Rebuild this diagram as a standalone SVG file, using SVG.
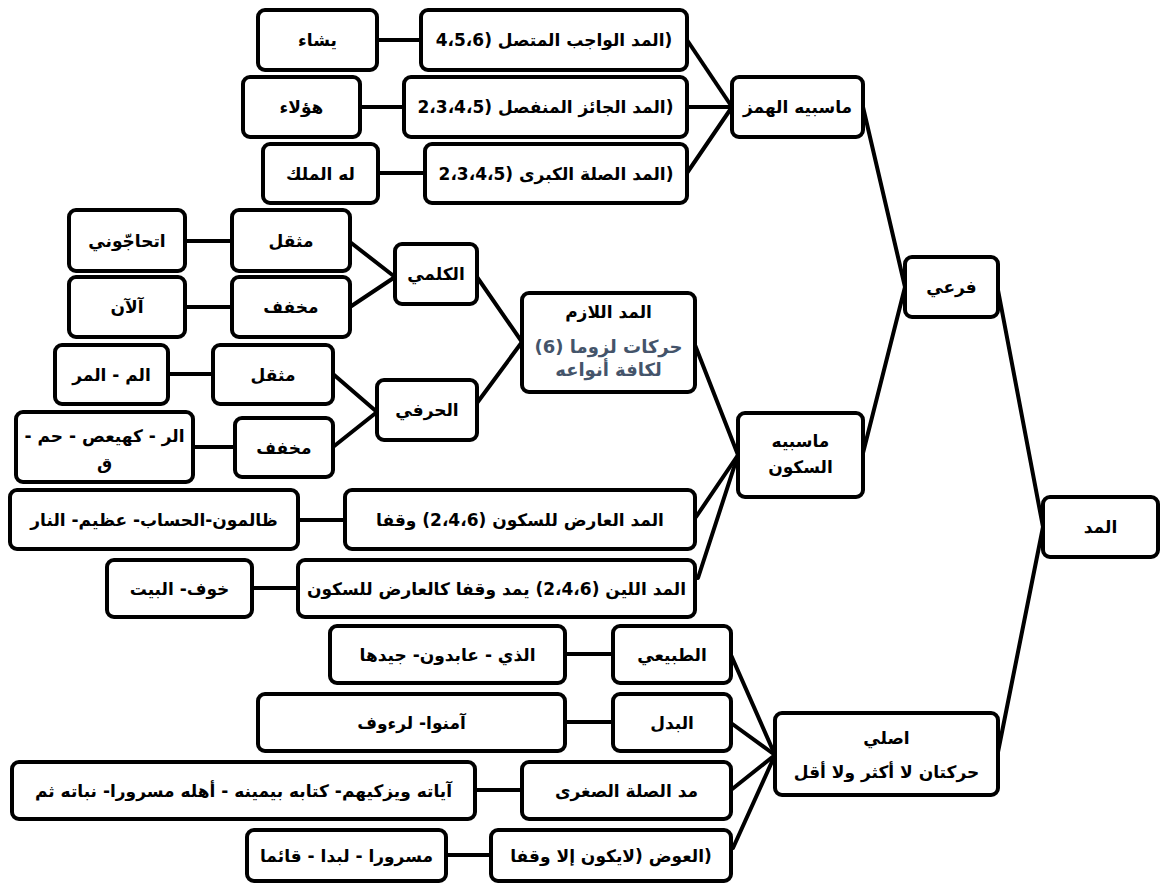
<svg xmlns="http://www.w3.org/2000/svg" width="1161" height="883" viewBox="0 0 1161 883">
<style>
.b{fill:#fff;stroke:#000;stroke-width:4}
.t{font-family:'DejaVu Sans',sans-serif;font-weight:bold;font-size:17px;text-anchor:middle;direction:rtl;fill:#000}
.bl{fill:#44546A;font-size:18px}
.c line{stroke:#000;stroke-width:4;stroke-linecap:round}
</style>
<rect width="1161" height="883" fill="#fff"/>
<g class="c" id="connectors">
<line x1="377" y1="40" x2="421" y2="40"/>
<line x1="360" y1="107" x2="404" y2="107"/>
<line x1="378" y1="173" x2="425" y2="173"/>
<line x1="687" y1="40" x2="732" y2="107"/>
<line x1="687" y1="107" x2="732" y2="107"/>
<line x1="687" y1="173" x2="732" y2="107"/>
<line x1="863" y1="107" x2="905" y2="287"/>
<line x1="863" y1="453" x2="905" y2="287"/>
<line x1="998" y1="290" x2="1043" y2="527"/>
<line x1="998" y1="752" x2="1043" y2="527"/>
<line x1="185" y1="241" x2="232" y2="241"/>
<line x1="185" y1="307" x2="232" y2="307"/>
<line x1="350" y1="242" x2="395" y2="277"/>
<line x1="350" y1="307" x2="395" y2="277"/>
<line x1="168" y1="374" x2="213" y2="374"/>
<line x1="193" y1="447" x2="235" y2="447"/>
<line x1="333" y1="374" x2="377" y2="412"/>
<line x1="333" y1="447" x2="377" y2="412"/>
<line x1="477" y1="277" x2="522" y2="342"/>
<line x1="477" y1="403" x2="522" y2="342"/>
<line x1="695" y1="345" x2="738" y2="455"/>
<line x1="298" y1="520" x2="345" y2="520"/>
<line x1="252" y1="588" x2="298" y2="588"/>
<line x1="696" y1="517" x2="738" y2="455"/>
<line x1="698" y1="578" x2="738" y2="455"/>
<line x1="565" y1="654" x2="613" y2="654"/>
<line x1="565" y1="722" x2="613" y2="722"/>
<line x1="475" y1="790" x2="522" y2="790"/>
<line x1="446" y1="855" x2="491" y2="855"/>
<line x1="731" y1="655" x2="775" y2="755"/>
<line x1="731" y1="723" x2="775" y2="755"/>
<line x1="731" y1="790" x2="775" y2="755"/>
<line x1="733" y1="848" x2="775" y2="755"/>
</g>
<g id="yashaa"><rect class="b" x="258" y="10" width="119" height="60" rx="7"/><text class="t" x="317.5" y="46">يشاء</text></g>
<g id="wajib"><rect class="b" x="421" y="10" width="266" height="60" rx="7"/><text class="t" x="554" y="46">(المد الواجب المتصل (4،5،6</text></g>
<g id="haula"><rect class="b" x="243" y="77" width="117" height="60" rx="7"/><text class="t" x="301.5" y="113">هؤلاء</text></g>
<g id="jaiz"><rect class="b" x="404" y="77" width="283" height="60" rx="7"/><text class="t" x="545.5" y="113">(المد الجائز المنفصل (2،3،4،5</text></g>
<g id="lahu"><rect class="b" x="263" y="144" width="115" height="59" rx="7"/><text class="t" x="320.5" y="179.5">له الملك</text></g>
<g id="kubra"><rect class="b" x="425" y="144" width="262" height="59" rx="7"/><text class="t" x="556" y="179.5">(المد الصلة الكبرى (2،3،4،5</text></g>
<g id="hamz"><rect class="b" x="732" y="77" width="131" height="60" rx="7"/><text class="t" x="797.5" y="113">ماسبيه الهمز</text></g>
<g id="farei"><rect class="b" x="905" y="257" width="93" height="60" rx="7"/><text class="t" x="951.5" y="293">فرعي</text></g>
<g id="madd"><rect class="b" x="1043" y="497" width="115" height="60" rx="7"/><text class="t" x="1100.5" y="533">المد</text></g>
<g id="sukoon"><rect class="b" x="738" y="413" width="125" height="84" rx="7"/><text class="t" x="800.5" y="447">ماسبيه</text><text class="t" x="800.5" y="473">السكون</text></g>
<g id="lazim"><rect class="b" x="522" y="293" width="173" height="99" rx="7"/><text class="t" x="608.5" y="318">المد اللازم</text><text class="t bl" x="608.5" y="353">حركات لزوما  (6)</text><text class="t bl" x="608.5" y="376">لكافة أنواعه</text></g>
<g id="kalimi"><rect class="b" x="395" y="244" width="82" height="60" rx="7"/><text class="t" x="436" y="280">الكلمي</text></g>
<g id="harfi"><rect class="b" x="377" y="380" width="100" height="60" rx="7"/><text class="t" x="427" y="416">الحرفي</text></g>
<g id="muthaqqal1"><rect class="b" x="232" y="210" width="118" height="61" rx="7"/><text class="t" x="291" y="246.5">مثقل</text></g>
<g id="itahajjuni"><rect class="b" x="69" y="210" width="116" height="61" rx="7"/><text class="t" x="127" y="246.5">اتحاجّوني</text></g>
<g id="mukhaffaf1"><rect class="b" x="232" y="277" width="118" height="60" rx="7"/><text class="t" x="291" y="313">مخفف</text></g>
<g id="alaan"><rect class="b" x="69" y="277" width="116" height="60" rx="7"/><text class="t" x="127" y="313">آلآن</text></g>
<g id="muthaqqal2"><rect class="b" x="213" y="345" width="120" height="59" rx="7"/><text class="t" x="273" y="380.5">مثقل</text></g>
<g id="alm"><rect class="b" x="55" y="345" width="113" height="59" rx="7"/><text class="t" x="111.5" y="380.5">الم - المر</text></g>
<g id="mukhaffaf2"><rect class="b" x="235" y="418" width="98" height="59" rx="7"/><text class="t" x="284" y="453.5">مخفف</text></g>
<g id="alr"><rect class="b" x="16" y="412" width="177" height="70" rx="7"/><text class="t" x="104.5" y="442">الر - كهيعص - حم -</text><text class="t" x="104.5" y="469">ق</text></g>
<g id="arid"><rect class="b" x="345" y="490" width="350" height="59" rx="7"/><text class="t" x="520" y="525.5">المد العارض للسكون (2،4،6) وقفا</text></g>
<g id="zalimun"><rect class="b" x="10" y="490" width="288" height="59" rx="7"/><text class="t" x="154" y="525.5">ظالمون-الحساب- عظيم- النار</text></g>
<g id="leen"><rect class="b" x="298" y="560" width="397" height="57" rx="7"/><text class="t" x="496.5" y="594.5">المد اللين (2،4،6) يمد وقفا كالعارض للسكون</text></g>
<g id="khawf"><rect class="b" x="107" y="560" width="145" height="57" rx="7"/><text class="t" x="179.5" y="594.5">خوف- البيت</text></g>
<g id="asli"><rect class="b" x="775" y="713" width="223" height="82" rx="7"/><text class="t" x="886.5" y="744">اصلي</text><text class="t" x="886.5" y="778">حركتان لا أكثر ولا أقل</text></g>
<g id="tabii"><rect class="b" x="613" y="626" width="118" height="57" rx="7"/><text class="t" x="672" y="660.5">الطبيعي</text></g>
<g id="alladhi"><rect class="b" x="330" y="626" width="235" height="57" rx="7"/><text class="t" x="447.5" y="660.5">الذي - عابدون- جيدها</text></g>
<g id="badal"><rect class="b" x="613" y="694" width="118" height="57" rx="7"/><text class="t" x="672" y="728.5">البدل</text></g>
<g id="amanu"><rect class="b" x="258" y="694" width="307" height="57" rx="7"/><text class="t" x="411.5" y="728.5">آمنوا- لرءوف</text></g>
<g id="sughra"><rect class="b" x="522" y="762" width="209" height="57" rx="7"/><text class="t" x="626.5" y="796.5">مد الصلة الصغرى</text></g>
<g id="ayatihi"><rect class="b" x="12" y="762" width="463" height="57" rx="7"/><text class="t" x="243.5" y="796.5">آياته ويزكيهم- كتابه بيمينه - أهله مسرورا- نباته ثم</text></g>
<g id="iwad"><rect class="b" x="491" y="830" width="240" height="51" rx="7"/><text class="t" x="611" y="861.5">(العوض (لايكون إلا وقفا</text></g>
<g id="masruran"><rect class="b" x="247" y="830" width="199" height="51" rx="7"/><text class="t" x="346.5" y="861.5">مسرورا - لبدا - قائما</text></g>
</svg>
